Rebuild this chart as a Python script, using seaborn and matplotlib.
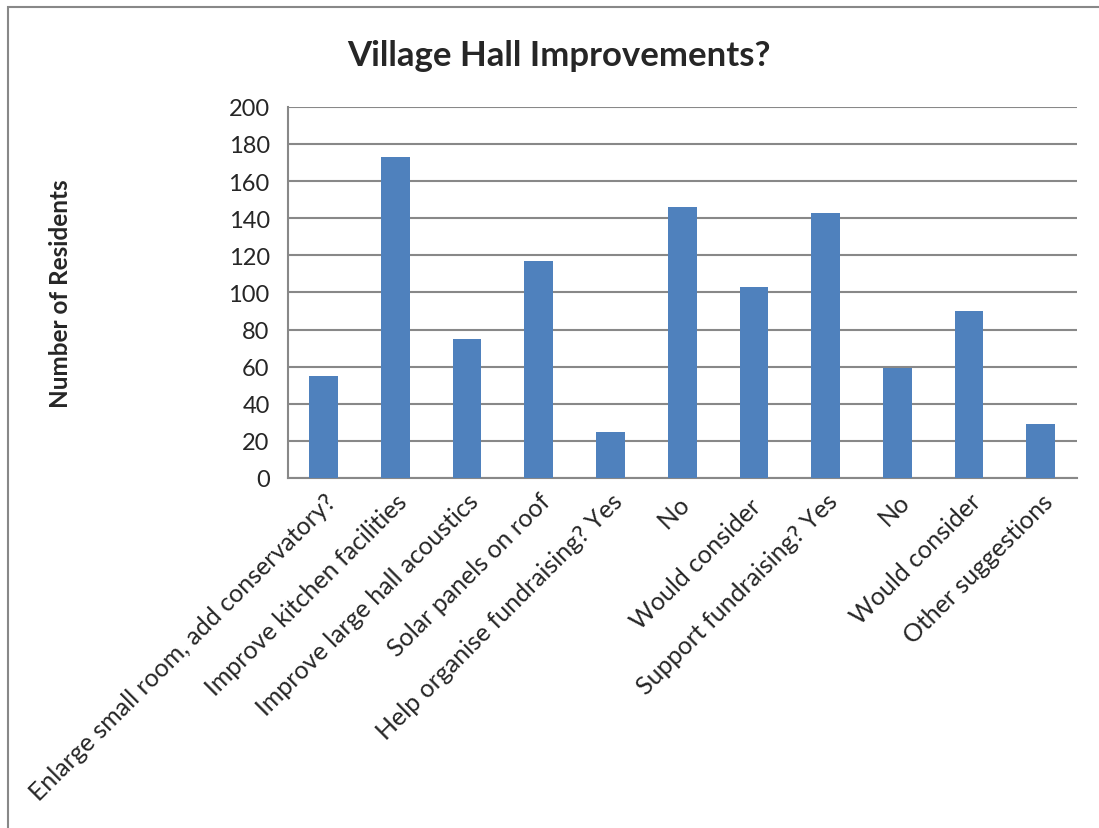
import matplotlib
matplotlib.use("Agg")
import matplotlib.pyplot as plt
import numpy as np
import pandas as pd
import seaborn as sns
from matplotlib.patches import Rectangle

# data
categories = [
    "Enlarge small room, add conservatory?",
    "Improve kitchen facilities",
    "Improve large hall acoustics",
    "Solar panels on roof",
    "Help organise fundraising? Yes",
    "No ",
    "Would consider ",
    "Support fundraising? Yes",
    "No",
    "Would consider",
    "Other suggestions",
]
residents = [55, 173, 75, 117, 25, 146, 103, 143, 59, 90, 29]
y_ticks = list(range(0, 201, 20))

df = pd.DataFrame({"category": categories, "residents": residents})

sns.set_style("white")
plt.rcParams['font.family'] = ['Lato', 'DejaVu Sans']

fig = plt.figure(figsize=(10.99, 8.29), dpi=100)
ax = fig.add_axes([0.2618, 0.4222, 0.9797 - 0.2618, 0.870 - 0.4222])

sns.barplot(data=df, x="category", y="residents", color="#4F81BD",
            saturation=1, width=0.4, linewidth=0, ax=ax, zorder=3)

ax.set_ylim(0, 200)
ax.set_xlim(-0.5, len(categories) - 0.5)
ax.set_yticks(y_ticks)
ax.yaxis.grid(True, color="#888888", linewidth=1.5, zorder=0)
ax.set_axisbelow(True)

for s in ["top", "right"]:
    ax.spines[s].set_visible(False)
for s in ["left", "bottom"]:
    ax.spines[s].set_color("#888888")
    ax.spines[s].set_linewidth(1.5)

# category boundary ticks (Excel style)
ax.set_xticks(np.arange(-0.5, len(categories), 1.0), minor=True)
ax.tick_params(axis="x", which="minor", length=7, width=1.5, color="#888888", direction="out")
ax.tick_params(axis="x", which="major", length=0, pad=8)
ax.tick_params(axis="y", length=7, width=1.5, color="#888888", direction="out", pad=6)
ax.set_xticks(range(len(categories)))
ax.set_xticklabels(categories, rotation=45, ha="right", rotation_mode="anchor", fontsize=18)
for lbl in ax.get_yticklabels():
    lbl.set_fontsize(17)

ax.set_xlabel("")
ax.set_ylabel("")
fig.text(0.055, 0.5 * (0.4222 + 0.870), "Number of Residents", rotation=90,
         ha="center", va="center", fontsize=17.5, fontweight="bold")
fig.text(0.509, 0.933, "Village Hall Improvements?", ha="center", va="center",
         fontsize=25, fontweight="bold")

# outer chart border
fig.patches.append(Rectangle((8 / 1099, -0.1), 1.1, 1.1 - 8 / 829, transform=fig.transFigure,
                             fill=False, edgecolor="#888888", linewidth=1.5))

fig.savefig("out.png", dpi=100)
plt.close(fig)
